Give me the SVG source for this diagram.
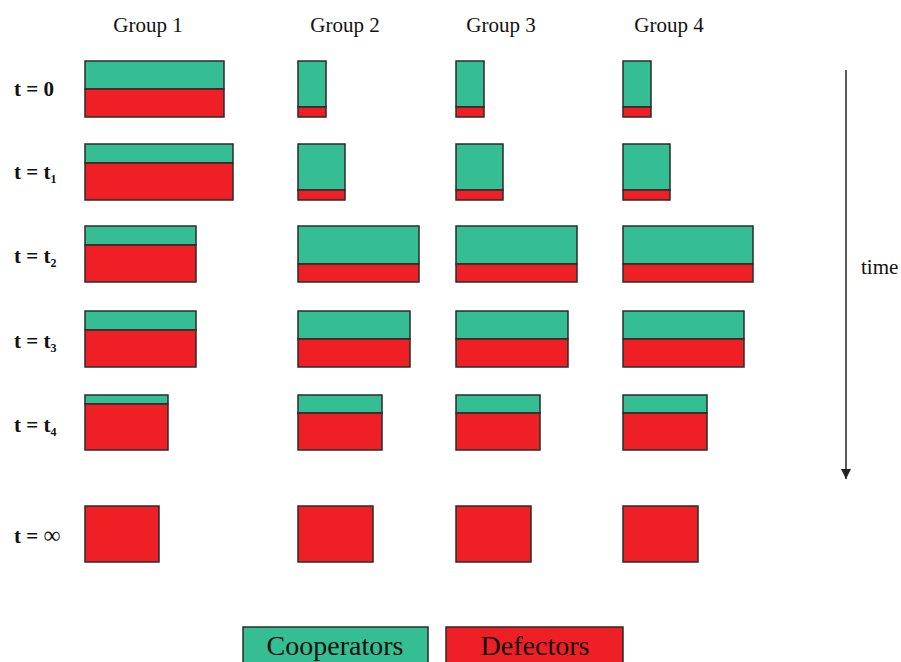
<svg xmlns="http://www.w3.org/2000/svg" width="901" height="662" viewBox="0 0 901 662">
<defs>
<style>
.c{fill:#35bd93;stroke:#2b2b2b;stroke-width:1.5}
.d{fill:#ee1f25;stroke:#2b2b2b;stroke-width:1.5}
.h{font-family:"Liberation Serif",serif;font-size:21px;fill:#111}
.r{font-family:"Liberation Serif",serif;font-size:21px;font-weight:bold;fill:#111}
.s{font-size:12px}
.l{font-family:"Liberation Serif",serif;font-size:28px;fill:#111;text-anchor:middle}
</style>
<marker id="ah" viewBox="0 0 10 10" refX="10" refY="5" markerWidth="10" markerHeight="10" markerUnits="userSpaceOnUse" orient="auto">
<path d="M0,0 L10,5 L0,10 Z" fill="#222"/>
</marker>
</defs>
<rect width="901" height="662" fill="#fff"/>
<g id="headings">
<text class="h" x="148" y="32" text-anchor="middle">Group 1</text>
<text class="h" x="345" y="32" text-anchor="middle">Group 2</text>
<text class="h" x="501" y="32" text-anchor="middle">Group 3</text>
<text class="h" x="669" y="32" text-anchor="middle">Group 4</text>
</g>
<g id="rowlabels">
<text class="r" x="14" y="96">t = 0</text>
<text class="r" x="14" y="179">t = t<tspan class="s" dy="4">1</tspan></text>
<text class="r" x="14" y="263">t = t<tspan class="s" dy="4">2</tspan></text>
<text class="r" x="14" y="348">t = t<tspan class="s" dy="4">3</tspan></text>
<text class="r" x="14" y="432">t = t<tspan class="s" dy="4">4</tspan></text>
<text class="r" x="14" y="543">t = <tspan font-weight="normal" font-size="24">∞</tspan></text>
</g>
<g id="group1">
<rect class="c" x="85" y="61" width="139" height="28"/><rect class="d" x="85" y="89" width="139" height="28"/>
<rect class="c" x="85" y="144" width="148" height="19"/><rect class="d" x="85" y="163" width="148" height="37"/>
<rect class="c" x="85" y="226" width="111" height="19"/><rect class="d" x="85" y="245" width="111" height="37"/>
<rect class="c" x="85" y="311" width="111" height="19"/><rect class="d" x="85" y="330" width="111" height="37"/>
<rect class="c" x="85" y="395" width="83" height="9"/><rect class="d" x="85" y="404" width="83" height="46"/>
<rect class="d" x="85" y="506" width="74" height="56"/>
</g>
<g id="group2">
<rect class="c" x="298" y="61" width="28" height="46"/><rect class="d" x="298" y="107" width="28" height="10"/>
<rect class="c" x="298" y="144" width="47" height="46"/><rect class="d" x="298" y="190" width="47" height="10"/>
<rect class="c" x="298" y="226" width="121" height="38"/><rect class="d" x="298" y="264" width="121" height="18"/>
<rect class="c" x="298" y="311" width="112" height="28"/><rect class="d" x="298" y="339" width="112" height="28"/>
<rect class="c" x="298" y="395" width="84" height="18"/><rect class="d" x="298" y="413" width="84" height="37"/>
<rect class="d" x="298" y="506" width="75" height="56"/>
</g>
<g id="group3">
<rect class="c" x="456" y="61" width="28" height="46"/><rect class="d" x="456" y="107" width="28" height="10"/>
<rect class="c" x="456" y="144" width="47" height="46"/><rect class="d" x="456" y="190" width="47" height="10"/>
<rect class="c" x="456" y="226" width="121" height="38"/><rect class="d" x="456" y="264" width="121" height="18"/>
<rect class="c" x="456" y="311" width="112" height="28"/><rect class="d" x="456" y="339" width="112" height="28"/>
<rect class="c" x="456" y="395" width="84" height="18"/><rect class="d" x="456" y="413" width="84" height="37"/>
<rect class="d" x="456" y="506" width="75" height="56"/>
</g>
<g id="group4">
<rect class="c" x="623" y="61" width="28" height="46"/><rect class="d" x="623" y="107" width="28" height="10"/>
<rect class="c" x="623" y="144" width="47" height="46"/><rect class="d" x="623" y="190" width="47" height="10"/>
<rect class="c" x="623" y="226" width="130" height="38"/><rect class="d" x="623" y="264" width="130" height="18"/>
<rect class="c" x="623" y="311" width="121" height="28"/><rect class="d" x="623" y="339" width="121" height="28"/>
<rect class="c" x="623" y="395" width="84" height="18"/><rect class="d" x="623" y="413" width="84" height="37"/>
<rect class="d" x="623" y="506" width="75" height="56"/>
</g>
<g id="connectors">
<line x1="846" y1="70" x2="846" y2="479" stroke="#222" stroke-width="1.5" marker-end="url(#ah)"/>
</g>
<g id="timelabel">
<text class="h" x="861" y="274">time</text>
</g>
<g id="legend-cooperators">
<rect class="c" x="243" y="627" width="185" height="40"/>
<text class="l" x="335" y="655">Cooperators</text>
</g>
<g id="legend-defectors">
<rect class="d" x="446" y="627" width="177" height="40"/>
<text class="l" x="535" y="655">Defectors</text>
</g>
</svg>
